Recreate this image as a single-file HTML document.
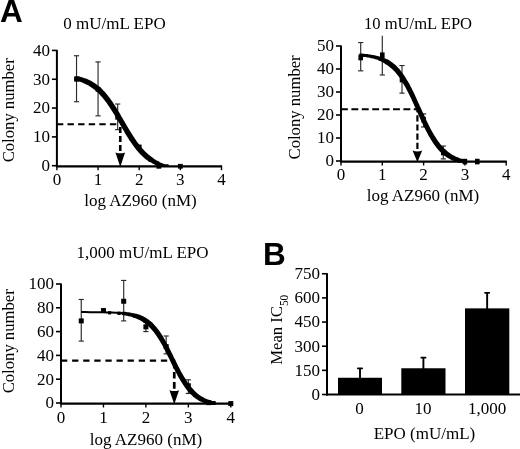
<!DOCTYPE html>
<html>
<head>
<meta charset="utf-8">
<title>Figure</title>
<style>
html, body { margin: 0; padding: 0; background: #fff; width: 520px; height: 449px; overflow: hidden; }
#fig { position: relative; width: 520px; height: 449px; overflow: hidden; background: #fff; }
body { font-family: "Liberation Serif", serif; }
svg { display: block; position: absolute; left: -10px; top: -10px; will-change: transform; filter: grayscale(1) blur(0.35px); }
svg text { font-family: "Liberation Serif", serif; fill: #000; }
svg text.L { font-family: "Liberation Sans", sans-serif; font-weight: bold; font-size: 31.5px; }
</style>
</head>
<body>
<div id="fig">
<svg width="540" height="469" viewBox="-10 -10 540 469">
<rect x="-10" y="-10" width="540" height="469" fill="#fff"/>
<line x1="76.53" y1="101.72" x2="76.53" y2="55.75" stroke="#2a2a2a" stroke-width="1.15" />
<line x1="73.93" y1="101.72" x2="79.13" y2="101.72" stroke="#2a2a2a" stroke-width="1.15" />
<line x1="73.93" y1="55.75" x2="79.13" y2="55.75" stroke="#2a2a2a" stroke-width="1.15" />
<line x1="98.05" y1="115.84" x2="98.05" y2="61.95" stroke="#2a2a2a" stroke-width="1.15" />
<line x1="95.45" y1="115.84" x2="100.65" y2="115.84" stroke="#2a2a2a" stroke-width="1.15" />
<line x1="95.45" y1="61.95" x2="100.65" y2="61.95" stroke="#2a2a2a" stroke-width="1.15" />
<line x1="117.68" y1="129.67" x2="117.68" y2="104.03" stroke="#2a2a2a" stroke-width="1.15" />
<line x1="115.08" y1="129.67" x2="120.28" y2="129.67" stroke="#2a2a2a" stroke-width="1.15" />
<line x1="115.08" y1="104.03" x2="120.28" y2="104.03" stroke="#2a2a2a" stroke-width="1.15" />
<line x1="56.90" y1="49.92" x2="56.90" y2="166.70" stroke="#000" stroke-width="2.0" />
<line x1="55.90" y1="166.30" x2="222.00" y2="166.30" stroke="#000" stroke-width="2.2" />
<line x1="51.90" y1="165.70" x2="56.90" y2="165.70" stroke="#000" stroke-width="1.6" />
<text transform="translate(49.90,171.00) scale(1.0,1)" font-size="17" text-anchor="end" >0</text>
<line x1="51.90" y1="136.88" x2="56.90" y2="136.88" stroke="#000" stroke-width="1.6" />
<text transform="translate(49.90,142.18) scale(1.0,1)" font-size="17" text-anchor="end" >10</text>
<line x1="51.90" y1="108.06" x2="56.90" y2="108.06" stroke="#000" stroke-width="1.6" />
<text transform="translate(49.90,113.36) scale(1.0,1)" font-size="17" text-anchor="end" >20</text>
<line x1="51.90" y1="79.24" x2="56.90" y2="79.24" stroke="#000" stroke-width="1.6" />
<text transform="translate(49.90,84.54) scale(1.0,1)" font-size="17" text-anchor="end" >30</text>
<line x1="51.90" y1="50.42" x2="56.90" y2="50.42" stroke="#000" stroke-width="1.6" />
<text transform="translate(49.90,55.72) scale(1.0,1)" font-size="17" text-anchor="end" >40</text>
<line x1="56.90" y1="165.70" x2="56.90" y2="170.20" stroke="#000" stroke-width="1.4" />
<text transform="translate(56.90,184.50) scale(1.0,1)" font-size="17" text-anchor="middle" >0</text>
<line x1="98.05" y1="165.70" x2="98.05" y2="170.20" stroke="#000" stroke-width="1.4" />
<text transform="translate(98.05,184.50) scale(1.0,1)" font-size="17" text-anchor="middle" >1</text>
<line x1="139.20" y1="165.70" x2="139.20" y2="170.20" stroke="#000" stroke-width="1.4" />
<text transform="translate(139.20,184.50) scale(1.0,1)" font-size="17" text-anchor="middle" >2</text>
<line x1="180.35" y1="165.70" x2="180.35" y2="170.20" stroke="#000" stroke-width="1.4" />
<text transform="translate(180.35,184.50) scale(1.0,1)" font-size="17" text-anchor="middle" >3</text>
<line x1="221.50" y1="165.70" x2="221.50" y2="170.20" stroke="#000" stroke-width="1.4" />
<text transform="translate(221.50,184.50) scale(1.0,1)" font-size="17" text-anchor="middle" >4</text>
<line x1="56.90" y1="124.20" x2="121.27" y2="124.20" stroke="#000" stroke-width="2.1" stroke-dasharray="6.4,4.2"/>
<line x1="120.27" y1="150.90" x2="120.27" y2="125.20" stroke="#000" stroke-width="2.6" stroke-dasharray="6,3"/>
<path d="M115.47,152.40 Q120.27,154.20 125.07,152.40 L120.27,166.90 Z" fill="#000"/>
<polygon points="74.6,76.3 78.5,76.3 79.6,76.6 80.6,76.9 81.7,77.2 82.8,77.5 83.8,77.9 84.9,78.2 86.0,78.6 87.1,79.1 88.1,79.5 89.2,80.0 90.3,80.6 91.3,81.1 92.4,81.7 93.5,82.4 94.6,83.0 95.6,83.8 96.7,84.5 97.8,85.4 98.8,86.2 99.9,87.1 101.0,88.1 102.1,89.1 103.1,90.2 104.2,91.3 105.3,92.5 106.3,93.7 107.4,95.0 108.5,96.4 109.6,97.8 110.6,99.2 111.7,100.8 112.8,102.3 113.8,103.9 114.9,105.6 116.0,107.3 117.1,109.0 118.1,110.7 119.2,112.5 120.3,114.3 121.3,116.2 122.4,118.0 123.5,119.9 124.6,121.7 125.6,123.6 126.7,125.4 127.8,127.2 128.8,129.0 129.9,130.8 131.0,132.6 132.1,134.3 133.1,136.0 134.2,137.6 135.3,139.2 136.3,140.7 137.4,142.2 138.5,143.7 139.6,145.1 140.6,146.4 141.7,147.7 142.8,148.9 143.9,150.1 144.9,151.2 146.0,152.2 147.1,153.2 148.1,154.2 149.2,155.1 150.3,155.9 151.4,156.7 152.4,157.5 153.5,158.2 153.5,162.1 149.6,162.1 148.5,161.4 147.5,160.6 146.4,159.8 145.3,159.0 144.2,158.1 143.2,157.1 142.1,156.1 141.0,155.1 140.0,154.0 138.9,152.8 137.8,151.6 136.7,150.3 135.7,149.0 134.6,147.6 133.5,146.1 132.4,144.6 131.4,143.1 130.3,141.5 129.2,139.9 128.2,138.2 127.1,136.5 126.0,134.7 124.9,132.9 123.9,131.1 122.8,129.3 121.7,127.5 120.7,125.6 119.6,123.8 118.5,121.9 117.4,120.1 116.4,118.2 115.3,116.4 114.2,114.6 113.2,112.9 112.1,111.2 111.0,109.5 109.9,107.8 108.9,106.2 107.8,104.7 106.7,103.1 105.7,101.7 104.6,100.3 103.5,98.9 102.4,97.6 101.4,96.4 100.3,95.2 99.2,94.1 98.2,93.0 97.1,92.0 96.0,91.0 94.9,90.1 93.9,89.3 92.8,88.4 91.7,87.7 90.7,86.9 89.6,86.3 88.5,85.6 87.4,85.0 86.4,84.5 85.3,83.9 84.2,83.4 83.2,83.0 82.1,82.5 81.0,82.1 79.9,81.8 78.9,81.4 77.8,81.1 76.7,80.8 75.7,80.5 74.6,80.2" fill="#000"/>
<polygon points="149.0,157.9 152.4,157.9 153.1,158.4 153.8,158.8 154.5,159.2 155.2,159.6 155.9,160.0 156.6,160.4 157.3,160.8 158.0,161.1 158.7,161.5 159.4,161.8 159.4,165.2 156.0,165.2 155.3,164.9 154.6,164.5 153.9,164.2 153.2,163.8 152.5,163.4 151.8,163.0 151.1,162.6 150.4,162.2 149.7,161.8 149.0,161.3" fill="#000"/>
<polygon points="155.4,161.6 158.3,161.6 159.2,162.0 160.1,162.4 160.9,162.8 161.8,163.1 162.6,163.4 163.5,163.7 164.3,164.0 165.2,164.2 166.1,164.2 166.9,164.2 167.8,164.2 168.6,164.2 168.6,167.1 165.7,167.1 164.9,167.1 164.0,167.1 163.2,167.1 162.3,167.1 161.4,166.9 160.6,166.6 159.7,166.3 158.9,166.0 158.0,165.7 157.2,165.3 156.3,164.9 155.4,164.5" fill="#000"/>
<rect x="74.13" y="76.84" width="4.80" height="4.80" fill="#000"/>
<rect x="95.65" y="86.93" width="4.80" height="4.80" fill="#000"/>
<rect x="115.28" y="114.88" width="4.80" height="4.80" fill="#000"/>
<rect x="136.80" y="144.57" width="4.80" height="4.80" fill="#000"/>
<rect x="156.43" y="163.88" width="4.80" height="4.80" fill="#000"/>
<rect x="177.95" y="163.88" width="4.80" height="4.80" fill="#000"/>
<text transform="translate(114.50,29.00) scale(1.0,1)" font-size="17" text-anchor="middle" >0 mU/mL EPO</text>
<text transform="translate(140.50,206.00) scale(1.0,1)" font-size="17" text-anchor="middle" >log AZ960 (nM)</text>
<text transform="translate(13.80,110.30) rotate(-90) scale(0.98,1)" font-size="17" text-anchor="middle">Colony number</text>
<line x1="360.70" y1="70.84" x2="360.70" y2="42.55" stroke="#2a2a2a" stroke-width="1.15" />
<line x1="358.10" y1="70.84" x2="363.30" y2="70.84" stroke="#2a2a2a" stroke-width="1.15" />
<line x1="358.10" y1="42.55" x2="363.30" y2="42.55" stroke="#2a2a2a" stroke-width="1.15" />
<line x1="382.30" y1="74.98" x2="382.30" y2="35.65" stroke="#2a2a2a" stroke-width="1.15" />
<line x1="379.70" y1="74.98" x2="384.90" y2="74.98" stroke="#2a2a2a" stroke-width="1.15" />
<line x1="402.00" y1="93.15" x2="402.00" y2="65.55" stroke="#2a2a2a" stroke-width="1.15" />
<line x1="399.40" y1="93.15" x2="404.60" y2="93.15" stroke="#2a2a2a" stroke-width="1.15" />
<line x1="399.40" y1="65.55" x2="404.60" y2="65.55" stroke="#2a2a2a" stroke-width="1.15" />
<line x1="423.60" y1="126.96" x2="423.60" y2="113.85" stroke="#2a2a2a" stroke-width="1.15" />
<line x1="421.00" y1="126.96" x2="426.20" y2="126.96" stroke="#2a2a2a" stroke-width="1.15" />
<line x1="421.00" y1="113.85" x2="426.20" y2="113.85" stroke="#2a2a2a" stroke-width="1.15" />
<line x1="443.30" y1="158.93" x2="443.30" y2="146.05" stroke="#2a2a2a" stroke-width="1.15" />
<line x1="440.70" y1="158.93" x2="445.90" y2="158.93" stroke="#2a2a2a" stroke-width="1.15" />
<line x1="440.70" y1="146.05" x2="445.90" y2="146.05" stroke="#2a2a2a" stroke-width="1.15" />
<line x1="341.00" y1="45.50" x2="341.00" y2="162.00" stroke="#000" stroke-width="2.0" />
<line x1="340.00" y1="161.60" x2="506.70" y2="161.60" stroke="#000" stroke-width="2.2" />
<line x1="336.00" y1="161.00" x2="341.00" y2="161.00" stroke="#000" stroke-width="1.6" />
<text transform="translate(334.00,166.30) scale(1.0,1)" font-size="17" text-anchor="end" >0</text>
<line x1="336.00" y1="138.00" x2="341.00" y2="138.00" stroke="#000" stroke-width="1.6" />
<text transform="translate(334.00,143.30) scale(1.0,1)" font-size="17" text-anchor="end" >10</text>
<line x1="336.00" y1="115.00" x2="341.00" y2="115.00" stroke="#000" stroke-width="1.6" />
<text transform="translate(334.00,120.30) scale(1.0,1)" font-size="17" text-anchor="end" >20</text>
<line x1="336.00" y1="92.00" x2="341.00" y2="92.00" stroke="#000" stroke-width="1.6" />
<text transform="translate(334.00,97.30) scale(1.0,1)" font-size="17" text-anchor="end" >30</text>
<line x1="336.00" y1="69.00" x2="341.00" y2="69.00" stroke="#000" stroke-width="1.6" />
<text transform="translate(334.00,74.30) scale(1.0,1)" font-size="17" text-anchor="end" >40</text>
<line x1="336.00" y1="46.00" x2="341.00" y2="46.00" stroke="#000" stroke-width="1.6" />
<text transform="translate(334.00,51.30) scale(1.0,1)" font-size="17" text-anchor="end" >50</text>
<line x1="341.00" y1="161.00" x2="341.00" y2="165.50" stroke="#000" stroke-width="1.4" />
<text transform="translate(341.00,179.80) scale(1.0,1)" font-size="17" text-anchor="middle" >0</text>
<line x1="382.30" y1="161.00" x2="382.30" y2="165.50" stroke="#000" stroke-width="1.4" />
<text transform="translate(382.30,179.80) scale(1.0,1)" font-size="17" text-anchor="middle" >1</text>
<line x1="423.60" y1="161.00" x2="423.60" y2="165.50" stroke="#000" stroke-width="1.4" />
<text transform="translate(423.60,179.80) scale(1.0,1)" font-size="17" text-anchor="middle" >2</text>
<line x1="464.90" y1="161.00" x2="464.90" y2="165.50" stroke="#000" stroke-width="1.4" />
<text transform="translate(464.90,179.80) scale(1.0,1)" font-size="17" text-anchor="middle" >3</text>
<line x1="506.20" y1="161.00" x2="506.20" y2="165.50" stroke="#000" stroke-width="1.4" />
<text transform="translate(506.20,179.80) scale(1.0,1)" font-size="17" text-anchor="middle" >4</text>
<line x1="341.00" y1="109.25" x2="418.40" y2="109.25" stroke="#000" stroke-width="2.1" stroke-dasharray="6.9,3.5"/>
<line x1="417.40" y1="149.00" x2="417.40" y2="110.25" stroke="#000" stroke-width="2.2" stroke-dasharray="6.2,3"/>
<path d="M412.60,150.50 Q417.40,152.30 422.20,150.50 L417.40,162.20 Z" fill="#000"/>
<polygon points="359.3,53.6 362.2,53.6 363.2,53.7 364.2,53.8 365.2,53.9 366.2,54.0 367.2,54.1 368.3,54.2 369.3,54.4 370.3,54.5 371.3,54.7 372.3,54.9 373.3,55.1 374.4,55.3 375.4,55.5 376.4,55.7 377.4,56.0 378.4,56.3 379.5,56.6 380.5,56.9 381.5,57.3 382.5,57.6 382.5,60.5 379.6,60.5 378.6,60.2 377.6,59.8 376.6,59.5 375.5,59.2 374.5,58.9 373.5,58.6 372.5,58.4 371.5,58.2 370.4,58.0 369.4,57.8 368.4,57.6 367.4,57.4 366.4,57.3 365.4,57.1 364.3,57.0 363.3,56.9 362.3,56.8 361.3,56.7 360.3,56.6 359.3,56.5" fill="#000"/>
<polygon points="378.5,57.1 381.9,57.1 382.6,57.4 383.3,57.6 384.0,57.9 384.7,58.2 385.4,58.6 386.1,58.9 386.8,59.3 387.6,59.6 388.3,60.0 389.0,60.4 389.0,63.8 385.6,63.8 384.9,63.4 384.2,63.0 383.4,62.7 382.7,62.3 382.0,62.0 381.3,61.6 380.6,61.3 379.9,61.0 379.2,60.8 378.5,60.5" fill="#000"/>
<polygon points="384.6,59.8 388.3,59.8 389.4,60.5 390.5,61.2 391.6,61.9 392.7,62.8 393.8,63.7 394.9,64.6 396.0,65.6 397.2,66.7 398.3,67.9 399.4,69.1 400.5,70.5 401.6,71.9 402.7,73.4 403.8,74.9 404.9,76.6 406.0,78.4 407.1,80.2 408.2,82.1 409.4,84.1 410.5,86.2 411.6,88.3 412.7,90.5 413.8,92.8 414.9,95.1 416.0,97.5 417.1,99.9 418.2,102.4 419.3,104.8 420.4,107.3 421.6,109.8 422.7,112.2 423.8,114.7 424.9,117.1 426.0,119.5 427.1,121.8 428.2,124.1 429.3,126.3 430.4,128.4 431.5,130.5 432.6,132.5 433.8,134.4 434.9,136.3 436.0,138.0 437.1,139.7 438.2,141.3 439.3,142.8 440.4,144.2 441.5,145.5 442.6,146.8 443.7,148.0 444.8,149.1 446.0,150.1 447.1,151.1 448.2,152.0 449.3,152.8 450.4,153.6 451.5,154.3 452.6,154.9 453.7,155.6 454.8,156.1 455.9,156.7 457.1,157.1 458.2,157.6 459.3,158.0 460.4,158.4 461.5,158.7 462.6,159.0 463.7,159.2 464.8,159.2 465.9,159.2 465.9,162.8 462.2,162.8 461.1,162.8 460.0,162.8 458.9,162.7 457.8,162.4 456.7,162.1 455.6,161.7 454.5,161.3 453.4,160.8 452.2,160.4 451.1,159.8 450.0,159.3 448.9,158.6 447.8,158.0 446.7,157.3 445.6,156.5 444.5,155.7 443.4,154.8 442.3,153.8 441.1,152.8 440.0,151.7 438.9,150.5 437.8,149.2 436.7,147.9 435.6,146.5 434.5,145.0 433.4,143.4 432.3,141.7 431.2,140.0 430.1,138.1 428.9,136.2 427.8,134.2 426.7,132.1 425.6,130.0 424.5,127.8 423.4,125.5 422.3,123.2 421.2,120.8 420.1,118.4 419.0,115.9 417.9,113.5 416.7,111.0 415.6,108.5 414.5,106.1 413.4,103.6 412.3,101.2 411.2,98.8 410.1,96.5 409.0,94.2 407.9,92.0 406.8,89.9 405.7,87.8 404.5,85.8 403.4,83.9 402.3,82.1 401.2,80.3 400.1,78.6 399.0,77.1 397.9,75.6 396.8,74.2 395.7,72.8 394.6,71.6 393.5,70.4 392.3,69.3 391.2,68.3 390.1,67.4 389.0,66.5 387.9,65.6 386.8,64.9 385.7,64.2 384.6,63.5" fill="#000"/>
<rect x="358.40" y="54.70" width="4.60" height="5.60" fill="#000"/>
<rect x="380.00" y="52.40" width="4.60" height="5.60" fill="#000"/>
<rect x="399.70" y="76.78" width="4.60" height="5.60" fill="#000"/>
<rect x="421.30" y="116.80" width="4.60" height="5.60" fill="#000"/>
<rect x="441.00" y="149.69" width="4.60" height="5.60" fill="#000"/>
<rect x="462.60" y="158.77" width="4.60" height="5.60" fill="#000"/>
<rect x="474.99" y="158.77" width="4.60" height="5.60" fill="#000"/>
<text transform="translate(418.00,29.00) scale(1.0,1)" font-size="16.6" text-anchor="middle" >10 mU/mL EPO</text>
<text transform="translate(423.00,200.50) scale(1.0,1)" font-size="17" text-anchor="middle" >log AZ960 (nM)</text>
<text transform="translate(299.70,107.40) rotate(-90) scale(0.98,1)" font-size="17" text-anchor="middle">Colony number</text>
<line x1="81.25" y1="341.12" x2="81.25" y2="299.47" stroke="#2a2a2a" stroke-width="1.15" />
<line x1="78.65" y1="341.12" x2="83.85" y2="341.12" stroke="#2a2a2a" stroke-width="1.15" />
<line x1="78.65" y1="299.47" x2="83.85" y2="299.47" stroke="#2a2a2a" stroke-width="1.15" />
<line x1="123.70" y1="320.89" x2="123.70" y2="280.43" stroke="#2a2a2a" stroke-width="1.15" />
<line x1="121.10" y1="320.89" x2="126.30" y2="320.89" stroke="#2a2a2a" stroke-width="1.15" />
<line x1="121.10" y1="280.43" x2="126.30" y2="280.43" stroke="#2a2a2a" stroke-width="1.15" />
<line x1="145.90" y1="331.60" x2="145.90" y2="322.08" stroke="#2a2a2a" stroke-width="1.15" />
<line x1="143.30" y1="331.60" x2="148.50" y2="331.60" stroke="#2a2a2a" stroke-width="1.15" />
<line x1="143.30" y1="322.08" x2="148.50" y2="322.08" stroke="#2a2a2a" stroke-width="1.15" />
<line x1="166.15" y1="353.85" x2="166.15" y2="336.00" stroke="#2a2a2a" stroke-width="1.15" />
<line x1="163.55" y1="353.85" x2="168.75" y2="353.85" stroke="#2a2a2a" stroke-width="1.15" />
<line x1="163.55" y1="336.00" x2="168.75" y2="336.00" stroke="#2a2a2a" stroke-width="1.15" />
<line x1="188.35" y1="393.48" x2="188.35" y2="379.80" stroke="#2a2a2a" stroke-width="1.15" />
<line x1="185.75" y1="393.48" x2="190.95" y2="393.48" stroke="#2a2a2a" stroke-width="1.15" />
<line x1="185.75" y1="379.80" x2="190.95" y2="379.80" stroke="#2a2a2a" stroke-width="1.15" />
<line x1="61.00" y1="283.50" x2="61.00" y2="404.00" stroke="#000" stroke-width="2.0" />
<line x1="60.00" y1="403.60" x2="231.30" y2="403.60" stroke="#000" stroke-width="2.2" />
<line x1="56.00" y1="403.00" x2="61.00" y2="403.00" stroke="#000" stroke-width="1.6" />
<text transform="translate(54.00,408.30) scale(1.0,1)" font-size="17" text-anchor="end" >0</text>
<line x1="56.00" y1="379.20" x2="61.00" y2="379.20" stroke="#000" stroke-width="1.6" />
<text transform="translate(54.00,384.50) scale(1.0,1)" font-size="17" text-anchor="end" >20</text>
<line x1="56.00" y1="355.40" x2="61.00" y2="355.40" stroke="#000" stroke-width="1.6" />
<text transform="translate(54.00,360.70) scale(1.0,1)" font-size="17" text-anchor="end" >40</text>
<line x1="56.00" y1="331.60" x2="61.00" y2="331.60" stroke="#000" stroke-width="1.6" />
<text transform="translate(54.00,336.90) scale(1.0,1)" font-size="17" text-anchor="end" >60</text>
<line x1="56.00" y1="307.80" x2="61.00" y2="307.80" stroke="#000" stroke-width="1.6" />
<text transform="translate(54.00,313.10) scale(1.0,1)" font-size="17" text-anchor="end" >80</text>
<line x1="56.00" y1="284.00" x2="61.00" y2="284.00" stroke="#000" stroke-width="1.6" />
<text transform="translate(54.00,289.30) scale(1.0,1)" font-size="17" text-anchor="end" >100</text>
<line x1="61.00" y1="403.00" x2="61.00" y2="407.50" stroke="#000" stroke-width="1.4" />
<text transform="translate(61.00,422.60) scale(1.0,1)" font-size="17" text-anchor="middle" >0</text>
<line x1="103.45" y1="403.00" x2="103.45" y2="407.50" stroke="#000" stroke-width="1.4" />
<text transform="translate(103.45,422.60) scale(1.0,1)" font-size="17" text-anchor="middle" >1</text>
<line x1="145.90" y1="403.00" x2="145.90" y2="407.50" stroke="#000" stroke-width="1.4" />
<text transform="translate(145.90,422.60) scale(1.0,1)" font-size="17" text-anchor="middle" >2</text>
<line x1="188.35" y1="403.00" x2="188.35" y2="407.50" stroke="#000" stroke-width="1.4" />
<text transform="translate(188.35,422.60) scale(1.0,1)" font-size="17" text-anchor="middle" >3</text>
<line x1="230.80" y1="403.00" x2="230.80" y2="407.50" stroke="#000" stroke-width="1.4" />
<text transform="translate(230.80,422.60) scale(1.0,1)" font-size="17" text-anchor="middle" >4</text>
<line x1="61.00" y1="360.64" x2="175.26" y2="360.64" stroke="#000" stroke-width="2.1" stroke-dasharray="6.3,4.8"/>
<line x1="174.26" y1="388.70" x2="174.26" y2="361.64" stroke="#000" stroke-width="2.7" stroke-dasharray="6.6,3.5"/>
<path d="M169.46,390.20 Q174.26,392.00 179.06,390.20 L174.26,404.20 Z" fill="#000"/>
<polyline points="81.2,312.1 85.6,312.1 89.9,312.2 94.3,312.2 98.6,312.2 103.0,312.3 107.3,312.4 111.6,312.6 116.0,312.8 120.3,313.1 124.7,313.6" fill="none" stroke="#000" stroke-width="2.0" stroke-linecap="butt" stroke-linejoin="round"/>
<polygon points="121.8,311.8 125.0,311.8 126.2,312.0 127.4,312.2 128.6,312.3 129.8,312.5 130.9,312.7 132.1,313.0 133.3,313.2 134.5,313.5 135.7,313.9 136.9,314.2 136.9,317.4 133.7,317.4 132.5,317.1 131.3,316.7 130.1,316.4 128.9,316.2 127.7,315.9 126.6,315.7 125.4,315.5 124.2,315.4 123.0,315.2 121.8,315.0" fill="#000"/>
<polygon points="132.6,313.7 136.3,313.7 137.4,314.0 138.6,314.4 139.7,314.8 140.8,315.3 142.0,315.8 143.1,316.3 144.2,316.9 145.4,317.5 146.5,318.2 147.6,319.0 148.8,319.8 149.9,320.7 151.0,321.6 152.2,322.6 153.3,323.7 154.4,324.9 155.6,326.2 156.7,327.5 157.8,328.9 159.0,330.5 160.1,332.1 161.2,333.8 162.4,335.5 163.5,337.4 164.6,339.3 165.8,341.4 166.9,343.4 168.0,345.6 169.2,347.8 170.3,350.0 171.4,352.3 172.6,354.6 173.7,356.9 174.8,359.2 176.0,361.5 177.1,363.8 178.2,366.0 179.4,368.2 180.5,370.4 181.6,372.5 182.8,374.5 183.9,376.5 185.1,378.3 186.2,380.1 187.3,381.9 188.5,383.5 189.6,385.0 190.7,386.5 191.9,387.8 193.0,389.1 194.1,390.3 195.3,391.4 196.4,392.5 197.5,393.5 198.7,394.4 199.8,395.2 200.9,395.9 202.1,396.7 203.2,397.3 204.3,397.9 205.5,398.4 206.6,398.9 207.7,399.4 208.9,399.8 210.0,400.2 211.1,400.6 212.3,400.9 213.4,401.1 214.5,401.1 215.7,401.1 215.7,404.9 212.0,404.9 210.8,404.9 209.7,404.9 208.6,404.6 207.4,404.3 206.3,403.9 205.2,403.5 204.0,403.1 202.9,402.6 201.8,402.1 200.6,401.6 199.5,401.0 198.4,400.4 197.2,399.6 196.1,398.9 195.0,398.1 193.8,397.2 192.7,396.2 191.6,395.1 190.4,394.0 189.3,392.8 188.2,391.5 187.0,390.2 185.9,388.7 184.8,387.2 183.6,385.6 182.5,383.8 181.4,382.0 180.2,380.2 179.1,378.2 177.9,376.2 176.8,374.1 175.7,371.9 174.5,369.7 173.4,367.5 172.3,365.2 171.1,362.9 170.0,360.6 168.9,358.3 167.7,356.0 166.6,353.7 165.5,351.5 164.3,349.3 163.2,347.1 162.1,345.1 160.9,343.0 159.8,341.1 158.7,339.2 157.5,337.5 156.4,335.8 155.3,334.2 154.1,332.6 153.0,331.2 151.9,329.9 150.7,328.6 149.6,327.4 148.5,326.3 147.3,325.3 146.2,324.4 145.1,323.5 143.9,322.7 142.8,321.9 141.7,321.2 140.5,320.6 139.4,320.0 138.3,319.5 137.1,319.0 136.0,318.5 134.9,318.1 133.7,317.7 132.6,317.4" fill="#000"/>
<rect x="78.75" y="318.39" width="5.00" height="5.00" fill="#000"/>
<rect x="100.95" y="308.04" width="5.00" height="5.00" fill="#000"/>
<rect x="121.20" y="298.75" width="5.00" height="5.00" fill="#000"/>
<rect x="143.40" y="324.34" width="5.00" height="5.00" fill="#000"/>
<rect x="163.65" y="344.09" width="5.00" height="5.00" fill="#000"/>
<rect x="185.85" y="383.25" width="5.00" height="5.00" fill="#000"/>
<rect x="206.10" y="400.14" width="5.00" height="5.00" fill="#000"/>
<rect x="228.30" y="401.10" width="5.00" height="5.00" fill="#000"/>
<rect x="108.01" y="311.20" width="3.20" height="3.20" fill="#000"/>
<rect x="117.41" y="311.57" width="3.40" height="3.40" fill="#000"/>
<text transform="translate(142.50,257.50) scale(1.0,1)" font-size="17" text-anchor="middle" >1,000 mU/mL EPO</text>
<text transform="translate(146.00,445.00) scale(1.0,1)" font-size="17" text-anchor="middle" >log AZ960 (nM)</text>
<text transform="translate(13.80,341.30) rotate(-90) scale(0.98,1)" font-size="17" text-anchor="middle">Colony number</text>
<rect x="338.00" y="377.76" width="44.00" height="16.74" fill="#000"/>
<line x1="360.00" y1="368.26" x2="360.00" y2="378.76" stroke="#000" stroke-width="1.9" />
<line x1="357.90" y1="368.46" x2="362.10" y2="368.46" stroke="#000" stroke-width="1.8" stroke-linecap="round"/>
<rect x="401.30" y="368.26" width="44.20" height="26.24" fill="#000"/>
<line x1="423.40" y1="357.47" x2="423.40" y2="369.26" stroke="#000" stroke-width="1.9" />
<line x1="421.30" y1="357.67" x2="425.50" y2="357.67" stroke="#000" stroke-width="1.8" stroke-linecap="round"/>
<rect x="465.00" y="308.37" width="44.30" height="86.13" fill="#000"/>
<line x1="487.15" y1="292.59" x2="487.15" y2="309.37" stroke="#000" stroke-width="1.9" />
<line x1="485.05" y1="292.79" x2="489.25" y2="292.79" stroke="#000" stroke-width="1.8" stroke-linecap="round"/>
<line x1="327.00" y1="273.25" x2="327.00" y2="395.50" stroke="#000" stroke-width="2.0" />
<line x1="326.00" y1="394.50" x2="530.00" y2="394.50" stroke="#000" stroke-width="2.0" />
<line x1="322.00" y1="394.50" x2="327.00" y2="394.50" stroke="#000" stroke-width="1.6" />
<text transform="translate(320.00,399.80) scale(1.0,1)" font-size="17" text-anchor="end" >0</text>
<line x1="322.00" y1="370.35" x2="327.00" y2="370.35" stroke="#000" stroke-width="1.6" />
<text transform="translate(320.00,375.65) scale(1.0,1)" font-size="17" text-anchor="end" >150</text>
<line x1="322.00" y1="346.20" x2="327.00" y2="346.20" stroke="#000" stroke-width="1.6" />
<text transform="translate(320.00,351.50) scale(1.0,1)" font-size="17" text-anchor="end" >300</text>
<line x1="322.00" y1="322.05" x2="327.00" y2="322.05" stroke="#000" stroke-width="1.6" />
<text transform="translate(320.00,327.35) scale(1.0,1)" font-size="17" text-anchor="end" >450</text>
<line x1="322.00" y1="297.90" x2="327.00" y2="297.90" stroke="#000" stroke-width="1.6" />
<text transform="translate(320.00,303.20) scale(1.0,1)" font-size="17" text-anchor="end" >600</text>
<line x1="322.00" y1="273.75" x2="327.00" y2="273.75" stroke="#000" stroke-width="1.6" />
<text transform="translate(320.00,279.05) scale(1.0,1)" font-size="17" text-anchor="end" >750</text>
<text transform="translate(359.50,413.50) scale(1.0,1)" font-size="17" text-anchor="middle" >0</text>
<text transform="translate(423.00,413.50) scale(1.0,1)" font-size="17" text-anchor="middle" >10</text>
<text transform="translate(487.00,413.50) scale(1.0,1)" font-size="17" text-anchor="middle" >1,000</text>
<text transform="translate(424.50,438.70) scale(1.0,1)" font-size="17" text-anchor="middle" >EPO (mU/mL)</text>
<text transform="translate(281.50,329.80) rotate(-90) scale(0.98,1)" font-size="17" text-anchor="middle">Mean IC<tspan font-size="11.5" dy="6.3">50</tspan></text>
<text x="0" y="21.5" class="L">A</text>
<text x="263" y="265" class="L">B</text>
</svg>
</div>
</body>
</html>
